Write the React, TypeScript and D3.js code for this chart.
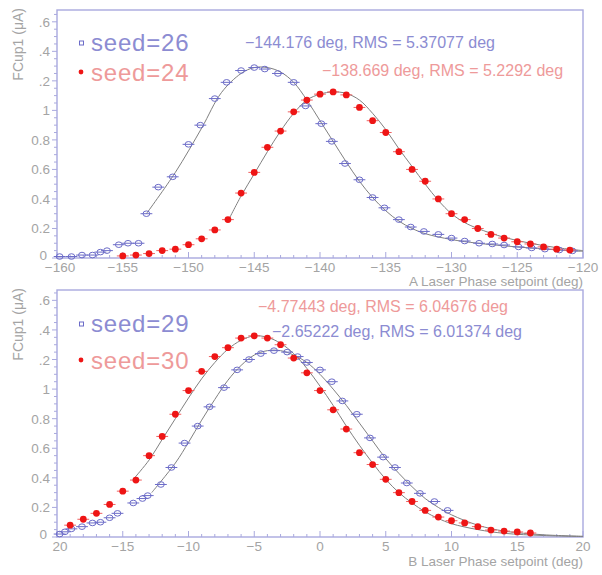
import * as d3 from "d3";

// ---- top panel data (A laser) ----
const xTicksA = [-160, -155, -150, -145, -140, -135, -130, -125, -120];
const xTickLabelsA = ["−160", "−155", "−150", "−145", "−140", "−135", "−130", "−125", "−120"];

const seed26X = [-159.8, -158.9, -158.1, -157.3, -156.7, -156.2, -155.3, -154.6, -153.8, -153.2, -152.3, -151.2, -150.0, -149.1, -148.0, -147.1, -146.0, -145.0, -144.2, -143.2, -142.0, -141.1, -139.9, -139.1, -138.1, -137.0, -136.0, -135.1, -134.0, -133.1, -132.1, -131.0, -130.0, -129.0, -127.9, -126.9, -126.0, -124.9, -123.9, -122.9, -121.8, -120.8];
const seed26Y = [0.01, 0.01, 0.02, 0.02, 0.04, 0.05, 0.09, 0.1, 0.1, 0.3, 0.48, 0.55, 0.77, 0.9, 1.08, 1.19, 1.27, 1.29, 1.28, 1.25, 1.19, 1.03, 0.91, 0.79, 0.64, 0.53, 0.41, 0.34, 0.26, 0.21, 0.18, 0.16, 0.135, 0.115, 0.1, 0.095, 0.088, 0.075, 0.068, 0.06, 0.054, 0.048];

const seed24X = [-155, -154, -153, -152, -151, -150, -149, -148, -147, -146, -145, -144, -143, -142, -141, -140, -139, -138, -137, -136, -135, -134, -133, -132, -131, -130, -129, -128, -127, -126, -125, -124, -123, -122, -121];
const seed24Y = [0.014, 0.02, 0.03, 0.05, 0.06, 0.09, 0.13, 0.19, 0.26, 0.44, 0.58, 0.75, 0.86, 0.99, 1.07, 1.11, 1.125, 1.105, 1.02, 0.93, 0.85, 0.72, 0.6, 0.52, 0.4, 0.3, 0.26, 0.2, 0.16, 0.135, 0.11, 0.095, 0.075, 0.06, 0.054];

const fit26X = [-153.2, -151, -149, -147.5, -146, -145, -144, -143, -142, -141, -140, -139, -138, -137, -136, -135, -134, -133, -132, -130, -128, -125, -122, -120];
const fit26Y = [0.3, 0.58, 0.88, 1.12, 1.25, 1.29, 1.29, 1.26, 1.19, 1.07, 0.93, 0.79, 0.65, 0.52, 0.41, 0.32, 0.25, 0.2, 0.165, 0.125, 0.1, 0.075, 0.055, 0.045];
const fit24X = [-147, -146, -145, -144, -143, -142, -141, -140, -139, -138, -137, -136, -135, -134, -133, -132, -131, -130, -129, -128, -126, -124, -122, -120];
const fit24Y = [0.25, 0.42, 0.57, 0.72, 0.86, 0.98, 1.07, 1.11, 1.125, 1.115, 1.07, 0.98, 0.87, 0.74, 0.62, 0.5, 0.39, 0.3, 0.24, 0.2, 0.14, 0.1, 0.07, 0.05];

// ---- bottom panel data (B laser) ----
const xTicksB = [-20, -15, -10, -5, 0, 5, 10, 15, 20];
const xTickLabelsB = ["20", "−15", "−10", "−5", "0", "5", "10", "15", "20"];

const seed29X = [-19.8, -19.4, -18.9, -18.1, -17.3, -16.7, -16.0, -15.4, -14.2, -13.5, -13.1, -12.1, -11.3, -10.3, -9.3, -8.4, -7.3, -6.3, -5.4, -4.5, -3.5, -2.5, -1.7, -1.0, 0.0, 0.9, 1.7, 2.8, 3.8, 4.8, 5.7, 6.6, 7.6, 8.7, 9.7];
const seed29Y = [0.02, 0.035, 0.055, 0.07, 0.095, 0.1, 0.13, 0.16, 0.23, 0.26, 0.28, 0.355, 0.47, 0.635, 0.75, 0.88, 1.01, 1.13, 1.2, 1.24, 1.26, 1.25, 1.22, 1.18, 1.13, 1.05, 0.92, 0.83, 0.67, 0.54, 0.47, 0.365, 0.295, 0.24, 0.18];

const seed30X = [-19, -18, -17, -16, -15, -14, -13, -12, -11, -10, -9, -8, -7, -6, -5, -4, -3, -2, -1, 0, 1, 2, 3, 4, 5, 6, 7, 8, 9, 10, 11, 12, 13, 14, 15, 16];
const seed30Y = [0.08, 0.12, 0.16, 0.22, 0.31, 0.385, 0.55, 0.68, 0.83, 0.99, 1.12, 1.22, 1.28, 1.345, 1.36, 1.345, 1.3, 1.21, 1.11, 0.99, 0.86, 0.73, 0.57, 0.49, 0.39, 0.3, 0.24, 0.18, 0.135, 0.11, 0.095, 0.07, 0.047, 0.04, 0.034, 0.027];

const fit29X = [-12.8, -11, -10, -9, -8, -7, -6, -5, -4, -3, -2, -1, 0, 1, 2, 3, 4, 5, 6, 7, 8, 9, 10, 12, 14, 17, 20];
const fit29Y = [0.3, 0.5, 0.64, 0.79, 0.93, 1.06, 1.16, 1.23, 1.26, 1.26, 1.23, 1.18, 1.1, 1.0, 0.89, 0.77, 0.65, 0.53, 0.43, 0.34, 0.26, 0.2, 0.15, 0.08, 0.04, 0.015, 0.005];
const fit30X = [-14.1, -13, -12, -11, -10, -9, -8, -7, -6, -5, -4, -3, -2, -1, 0, 1, 2, 3, 4, 5, 6, 7, 8, 9, 10, 12, 14, 17, 20];
const fit30Y = [0.4, 0.52, 0.66, 0.8, 0.94, 1.07, 1.18, 1.27, 1.33, 1.36, 1.35, 1.31, 1.24, 1.14, 1.02, 0.89, 0.75, 0.62, 0.5, 0.39, 0.3, 0.23, 0.17, 0.125, 0.09, 0.05, 0.025, 0.01, 0.003];

const yTicks = [0, 0.2, 0.4, 0.6, 0.8, 1, 1.2, 1.4, 1.6];
const yTickLabels = ["0", "0.2", "0.4", "0.6", "0.8", "1", ".2", ".4", ".6"];

const BLUE = "#6c6cc8";
const BLUE_TXT = "#8c8cd2";
const RED = "#ee1515";
const RED_TXT = "#ee9a9a";
const FRAME = "#a9a9de";
const GRAY = "#a4a4a4";
const FONT = "Liberation Sans, Arial, sans-serif";

const LEFT = 57;
const RIGHT = 583;

type Series = { xs: number[]; ys: number[]; kind: "open" | "dot" };
type Fit = { xs: number[]; ys: number[] };
type Note = { text: string; x: number; y: number; color: string };
type Leg = { text: string; y: number; kind: "open" | "dot" };

function Marker({ x, y, kind }: { x: number; y: number; kind: "open" | "dot" }) {
  return kind === "open" ? (
    <ellipse cx={x} cy={y} rx={3.4} ry={2.8} fill="none" stroke={BLUE} strokeWidth={1} />
  ) : (
    <circle cx={x} cy={y} r={3.4} fill={RED} />
  );
}

function Panel(props: {
  top: number;
  bottom: number;
  xDomain: [number, number];
  yMax: number;
  xTicks: number[];
  xTickLabels: string[];
  xTitle: string;
  titleY: number;
  series: Series[];
  fits: Fit[];
  legend: Leg[];
  notes: Note[];
}) {
  const { top, bottom, xDomain, yMax, xTicks, xTickLabels, xTitle, titleY, series, fits, legend, notes } = props;
  const x = d3.scaleLinear().domain(xDomain).range([LEFT, RIGHT]);
  const y = d3.scaleLinear().domain([0, yMax]).range([bottom, top]);
  const line = d3
    .line<[number, number]>()
    .x((d) => x(d[0]))
    .y((d) => y(d[1]))
    .curve(d3.curveCatmullRom);

  const minorX = d3.range(xDomain[0], xDomain[1] + 0.001, 1);
  const minorY = d3.range(0, yMax, 0.05);

  return (
    <g>
      <rect x={LEFT} y={top} width={RIGHT - LEFT} height={bottom - top} fill="none" stroke={FRAME} strokeWidth={1.4} />
      {minorX.map((v, i) => (
        <line key={"mx" + i} x1={x(v)} x2={x(v)} y1={bottom} y2={bottom - (i % 5 === 0 ? 6 : 3)} stroke={FRAME} />
      ))}
      {minorY.map((v, i) => (
        <line key={"my" + i} x1={LEFT} x2={LEFT - (i % 4 === 0 ? 5 : 3)} y1={y(v)} y2={y(v)} stroke={FRAME} />
      ))}
      {xTicks.map((v, i) => (
        <text key={"xt" + i} x={x(v) + (i === 0 ? 3 : 0)} y={bottom + 14} textAnchor="middle" fontSize={13.5} fill={GRAY} fontFamily={FONT}>
          {xTickLabels[i]}
        </text>
      ))}
      {yTicks.map((v, i) => (
        <text key={"yt" + i} x={i === 0 ? 47 : 50} y={y(v) + (i === 0 ? 2 : 5)} textAnchor="end" fontSize={13.5} fill={GRAY} fontFamily={FONT}>
          {yTickLabels[i]}
        </text>
      ))}
      <text x={RIGHT} y={titleY} textAnchor="end" fontSize={13.5} fill={GRAY} fontFamily={FONT}>
        {xTitle}
      </text>
      <text
        transform={`translate(23,${top - 2}) rotate(-90)`}
        textAnchor="end"
        fontSize={14}
        fill={GRAY}
        fontFamily={FONT}
      >
        FCup1 (μA)
      </text>
      {fits.map((f, i) => (
        <path
          key={"f" + i}
          d={line(f.xs.map((v, j) => [v, f.ys[j]] as [number, number])) || ""}
          fill="none"
          stroke="#808080"
          strokeWidth={1}
        />
      ))}
      {series.map((s, i) => (
        <g key={"s" + i}>
          {s.xs.map((v, j) => (
            <g key={j}>
              <line
                x1={x(v - 0.45)}
                x2={x(v + 0.45)}
                y1={y(s.ys[j])}
                y2={y(s.ys[j])}
                stroke={s.kind === "open" ? BLUE : "#f06060"}
                strokeWidth={1}
              />
              <Marker x={x(v)} y={y(s.ys[j])} kind={s.kind} />
            </g>
          ))}
        </g>
      ))}
      {legend.map((l, i) => (
        <g key={"l" + i}>
          {l.kind === "open" ? (
            <rect x={79.5} y={l.y - 10} width={4} height={4} fill="none" stroke={BLUE} strokeWidth={1} />
          ) : (
            <circle cx={81} cy={l.y - 9} r={2.4} fill={RED} />
          )}
          <text x={91} y={l.y} fontSize={24} letterSpacing={0.8} fill={l.kind === "open" ? BLUE_TXT : RED_TXT} fontFamily={FONT}>
            {l.text}
          </text>
        </g>
      ))}
      {notes.map((n, i) => (
        <text key={"n" + i} x={n.x} y={n.y} fontSize={16} fill={n.color} fontFamily={FONT}>
          {n.text}
        </text>
      ))}
    </g>
  );
}

export default function App() {
  return (
    <svg width={602} height={575} style={{ position: "absolute", left: 0, top: 0, background: "#fff" }}>
      <Panel
        top={10}
        bottom={258}
        xDomain={[-160, -120]}
        yMax={1.68}
        xTicks={xTicksA}
        xTickLabels={xTickLabelsA}
        xTitle="A Laser Phase setpoint (deg)"
        titleY={286}
        series={[
          { xs: seed26X, ys: seed26Y, kind: "open" },
          { xs: seed24X, ys: seed24Y, kind: "dot" },
        ]}
        fits={[
          { xs: fit26X, ys: fit26Y },
          { xs: fit24X, ys: fit24Y },
        ]}
        legend={[
          { text: "seed=26", y: 51, kind: "open" },
          { text: "seed=24", y: 81, kind: "dot" },
        ]}
        notes={[
          { text: "−144.176 deg, RMS = 5.37077 deg", x: 245, y: 48, color: BLUE_TXT },
          { text: "−138.669 deg, RMS = 5.2292 deg", x: 322, y: 76, color: RED_TXT },
        ]}
      />
      <Panel
        top={290}
        bottom={537}
        xDomain={[-20, 20]}
        yMax={1.67}
        xTicks={xTicksB}
        xTickLabels={xTickLabelsB}
        xTitle="B Laser Phase setpoint (deg)"
        titleY={566}
        series={[
          { xs: seed29X, ys: seed29Y, kind: "open" },
          { xs: seed30X, ys: seed30Y, kind: "dot" },
        ]}
        fits={[
          { xs: fit29X, ys: fit29Y },
          { xs: fit30X, ys: fit30Y },
        ]}
        legend={[
          { text: "seed=29", y: 332, kind: "open" },
          { text: "seed=30", y: 369, kind: "dot" },
        ]}
        notes={[
          { text: "−4.77443 deg, RMS = 6.04676 deg", x: 258, y: 312, color: RED_TXT },
          { text: "−2.65222 deg, RMS = 6.01374 deg", x: 272, y: 337, color: BLUE_TXT },
        ]}
      />
    </svg>
  );
}
